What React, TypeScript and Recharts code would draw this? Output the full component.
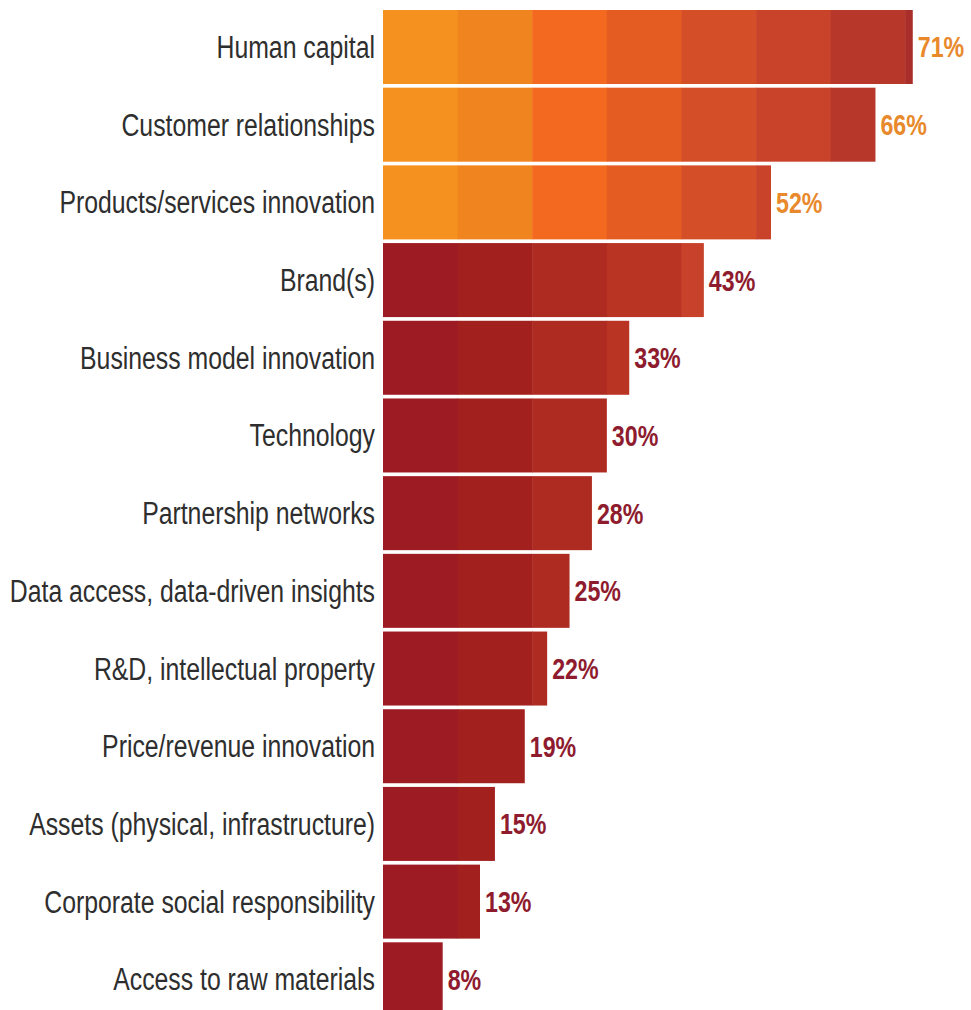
import { BarChart, Bar, XAxis, YAxis, LabelList } from 'recharts'

const categories = [
  'Human capital',
  'Customer relationships',
  'Products/services innovation',
  'Brand(s)',
  'Business model innovation',
  'Technology',
  'Partnership networks',
  'Data access, data-driven insights',
  'R&D, intellectual property',
  'Price/revenue innovation',
  'Assets (physical, infrastructure)',
  'Corporate social responsibility',
  'Access to raw materials',
]
const values = [71, 66, 52, 43, 33, 30, 28, 25, 22, 19, 15, 13, 8]
const HIGHLIGHT_COUNT = 3

// one colour per 10-point band
const orangeBands = ['#f5921f', '#f0841f', '#f2691f', '#e55c23', '#d44f27', '#c8432a', '#b8372b', '#a92e2a']
const redBands = ['#9d1c23', '#a2211f', '#ae2b22', '#ba3423', '#c8412a', '#cc4628', '#cc4628', '#cc4628']

const FONT = "'Liberation Sans', Arial, sans-serif"
const SQUEEZE = 0.8

const data = categories.map((name, i) => ({ name, value: values[i] }))

function BandedBar(props: any) {
  const { x, y, width, height, index, value } = props
  const v = Array.isArray(value) ? value[1] - value[0] : value
  if (!v || width <= 0) return null
  const step = (width / v) * 10
  const palette = index < HIGHLIGHT_COUNT ? orangeBands : redBands
  const n = Math.ceil(v / 10)
  const rects = []
  for (let k = 0; k < n; k++) {
    const x0 = x + k * step
    const x1 = Math.min(x + width, x0 + step)
    rects.push(<rect key={k} x={x0} y={y} width={x1 - x0 + (k < n - 1 ? 0.5 : 0)} height={height} fill={palette[Math.min(k, palette.length - 1)]} />)
  }
  return <g>{rects}</g>
}

function CategoryTick(props: any) {
  const { x, y, payload } = props
  return (
    <g transform={`translate(${x},${y})`}>
      <text transform={`scale(${SQUEEZE},1)`} textAnchor="end" dy="0.36em" fill="#2e2e2e" fontFamily={FONT} fontSize={31}>
        {payload.value}
      </text>
    </g>
  )
}

function ValueLabel(props: any) {
  const { x, y, width, height, value, index } = props
  return (
    <g transform={`translate(${x + width + 5},${y + height / 2})`}>
      <text
        transform={`scale(${SQUEEZE},1)`}
        dy="0.36em"
        fill={index < HIGHLIGHT_COUNT ? '#e8892b' : '#8e1b2e'}
        fontFamily={FONT}
        fontWeight={700}
        fontSize={29}
      >
        {`${value}%`}
      </text>
    </g>
  )
}

export default function App() {
  return (
    <div style={{ position: 'absolute', left: 0, top: 0, width: 971, height: 1010, overflow: 'hidden', background: '#fff' }}>
      <BarChart
        width={971}
        height={1018}
        data={data}
        layout="vertical"
        margin={{ top: 8, right: 6, left: 0, bottom: 0 }}
        barCategoryGap={2}
      >
        <XAxis type="number" domain={[0, 78]} hide />
        <YAxis
          type="category"
          dataKey="name"
          width={383}
          axisLine={false}
          tickLine={false}
          tickMargin={2}
          tick={<CategoryTick />}
          interval={0}
        />
        <Bar dataKey="value" shape={<BandedBar />} isAnimationActive={false}>
          <LabelList dataKey="value" content={<ValueLabel />} />
        </Bar>
      </BarChart>
    </div>
  )
}
